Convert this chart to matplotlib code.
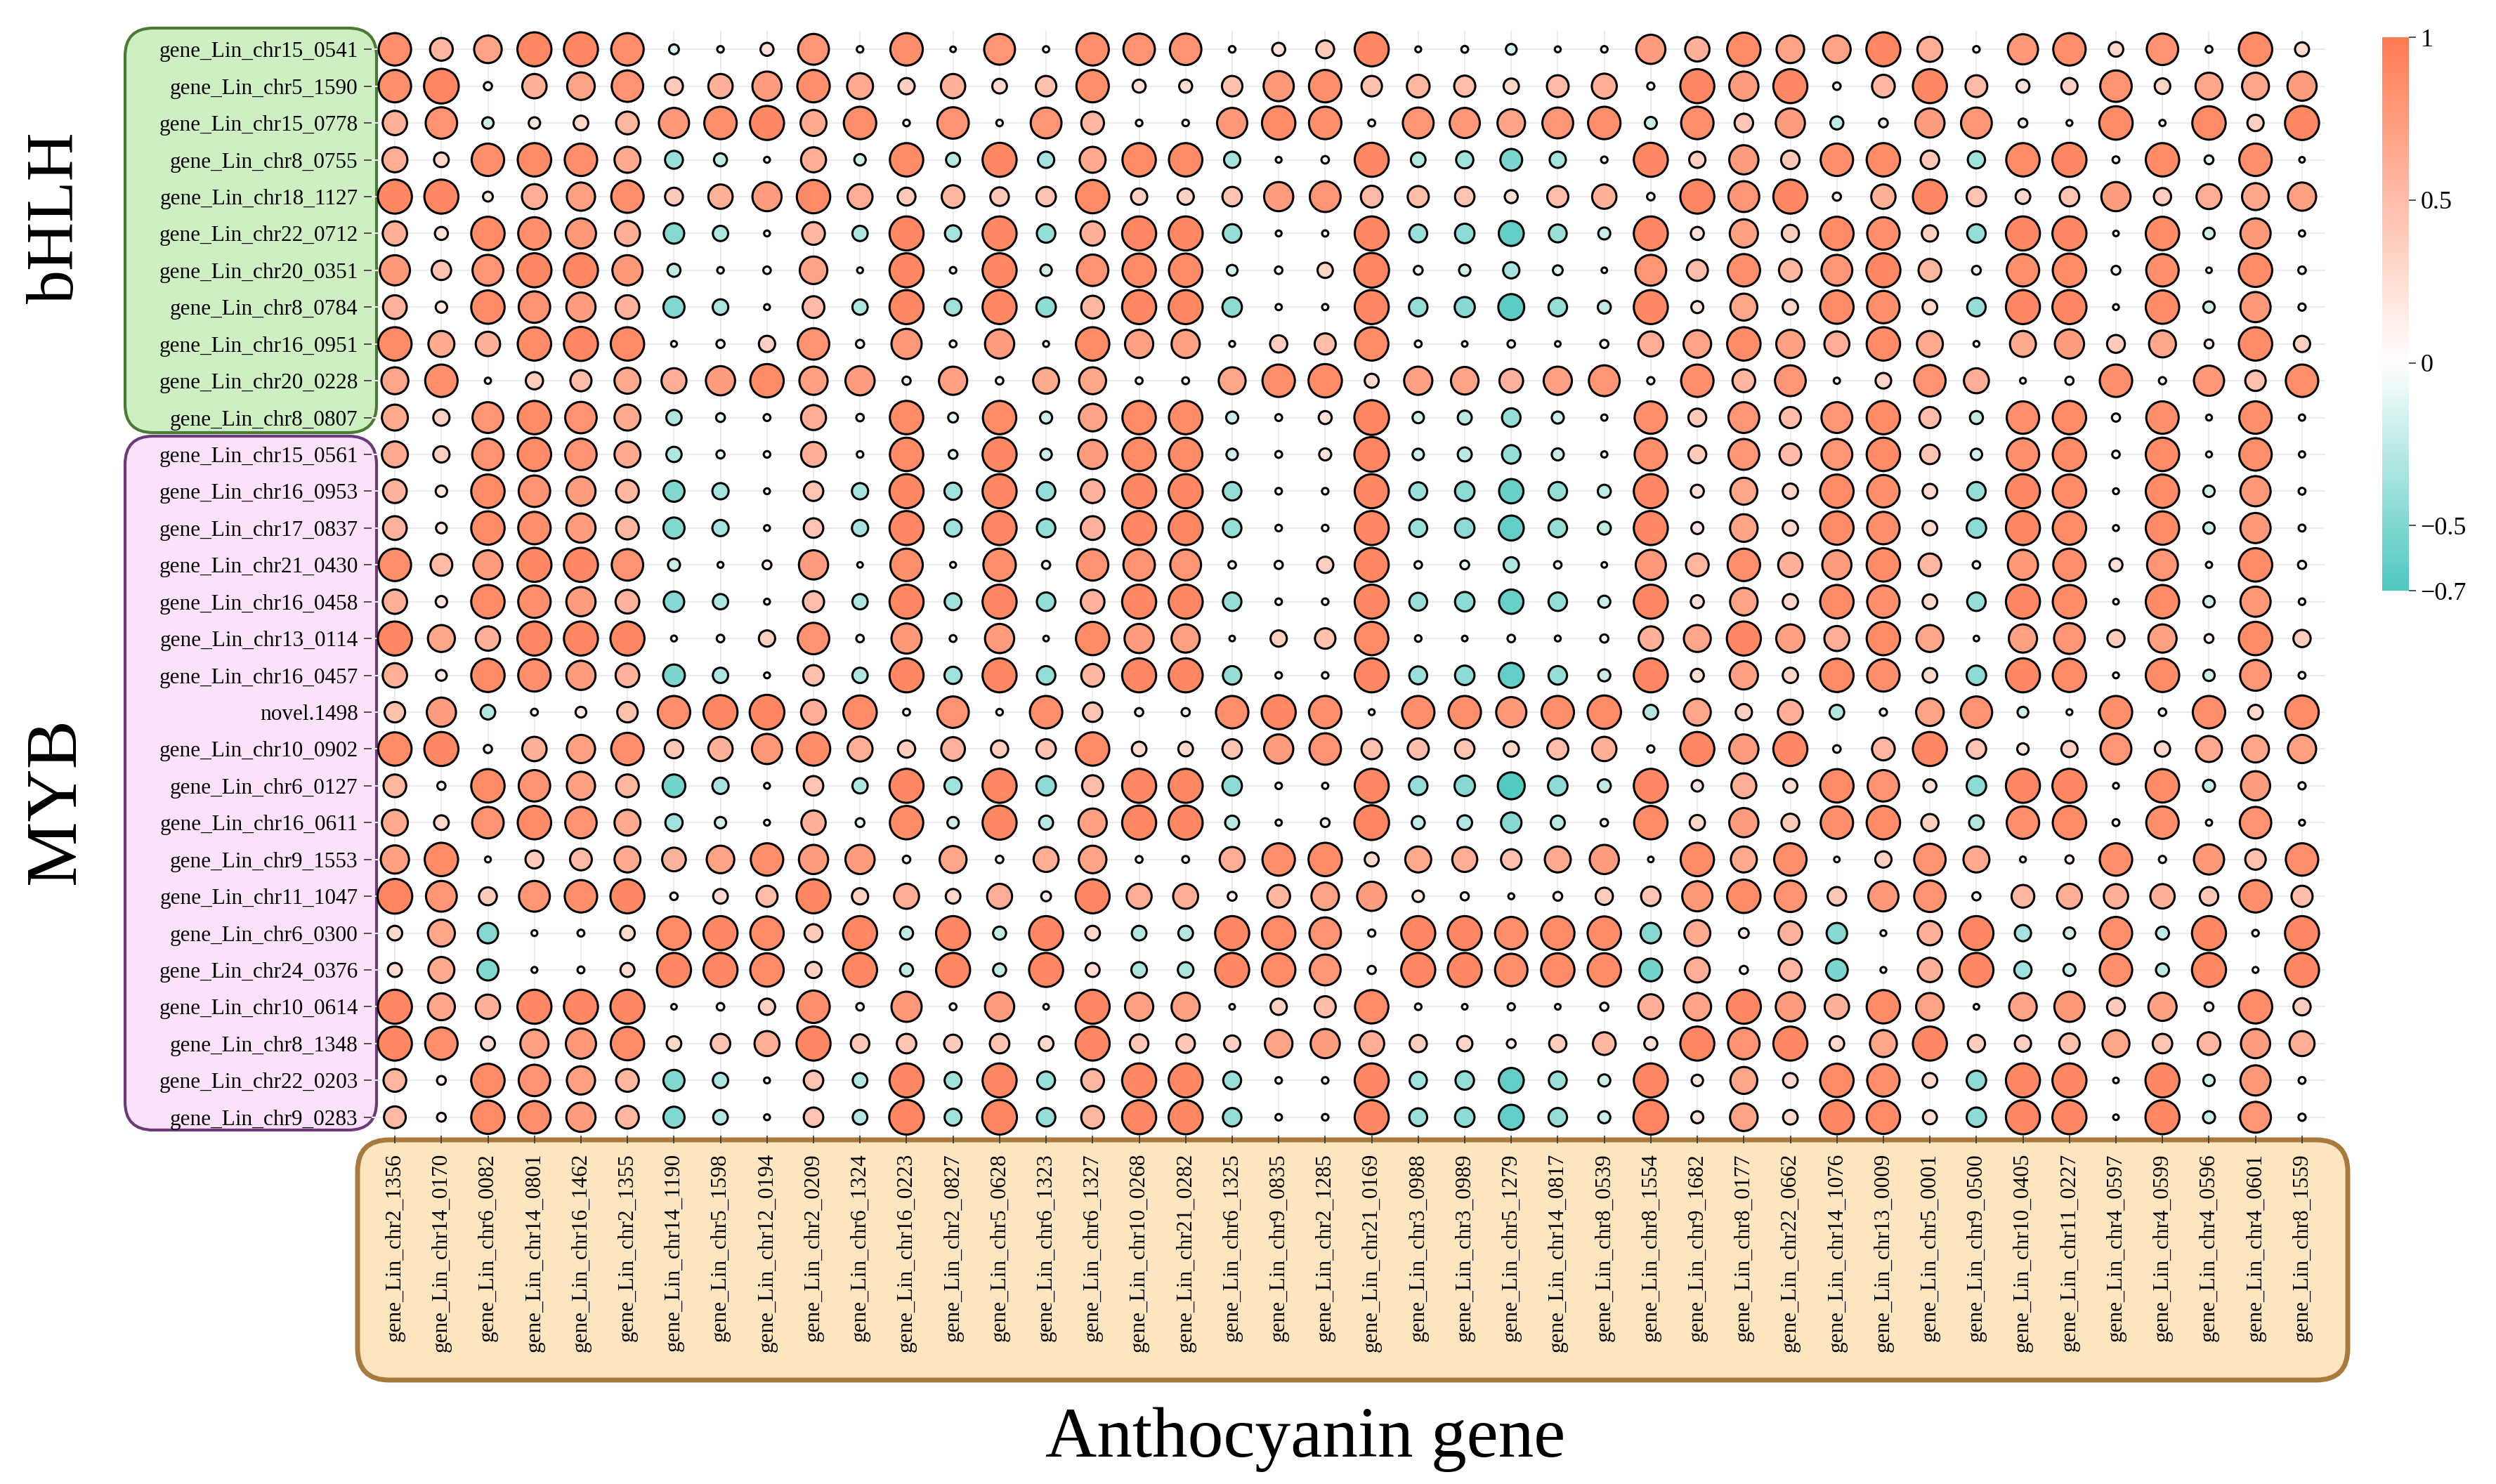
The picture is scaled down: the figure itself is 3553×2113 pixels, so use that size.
import numpy as np
import matplotlib
matplotlib.use('Agg')
import matplotlib.pyplot as plt
from matplotlib.colors import LinearSegmentedColormap, Normalize
from matplotlib.cm import ScalarMappable
from matplotlib.patches import FancyBboxPatch

plt.rcParams['font.family'] = ['Liberation Serif', 'DejaVu Serif']

# anthocyanin genes (x axis)
col_genes = ['gene_Lin_chr2_1356', 'gene_Lin_chr14_0170', 'gene_Lin_chr6_0082', 'gene_Lin_chr14_0801',
             'gene_Lin_chr16_1462', 'gene_Lin_chr2_1355', 'gene_Lin_chr14_1190', 'gene_Lin_chr5_1598',
             'gene_Lin_chr12_0194', 'gene_Lin_chr2_0209', 'gene_Lin_chr6_1324', 'gene_Lin_chr16_0223',
             'gene_Lin_chr2_0827', 'gene_Lin_chr5_0628', 'gene_Lin_chr6_1323', 'gene_Lin_chr6_1327',
             'gene_Lin_chr10_0268', 'gene_Lin_chr21_0282', 'gene_Lin_chr6_1325', 'gene_Lin_chr9_0835',
             'gene_Lin_chr2_1285', 'gene_Lin_chr21_0169', 'gene_Lin_chr3_0988', 'gene_Lin_chr3_0989',
             'gene_Lin_chr5_1279', 'gene_Lin_chr14_0817', 'gene_Lin_chr8_0539', 'gene_Lin_chr8_1554',
             'gene_Lin_chr9_1682', 'gene_Lin_chr8_0177', 'gene_Lin_chr22_0662', 'gene_Lin_chr14_1076',
             'gene_Lin_chr13_0009', 'gene_Lin_chr5_0001', 'gene_Lin_chr9_0500', 'gene_Lin_chr10_0405',
             'gene_Lin_chr11_0227', 'gene_Lin_chr4_0597', 'gene_Lin_chr4_0599', 'gene_Lin_chr4_0596',
             'gene_Lin_chr4_0601', 'gene_Lin_chr8_1559']

bhlh_genes = ['gene_Lin_chr15_0541', 'gene_Lin_chr5_1590', 'gene_Lin_chr15_0778', 'gene_Lin_chr8_0755',
              'gene_Lin_chr18_1127', 'gene_Lin_chr22_0712', 'gene_Lin_chr20_0351', 'gene_Lin_chr8_0784',
              'gene_Lin_chr16_0951', 'gene_Lin_chr20_0228', 'gene_Lin_chr8_0807']

myb_genes = ['gene_Lin_chr15_0561', 'gene_Lin_chr16_0953', 'gene_Lin_chr17_0837', 'gene_Lin_chr21_0430',
             'gene_Lin_chr16_0458', 'gene_Lin_chr13_0114', 'gene_Lin_chr16_0457', 'novel.1498',
             'gene_Lin_chr10_0902', 'gene_Lin_chr6_0127', 'gene_Lin_chr16_0611', 'gene_Lin_chr9_1553',
             'gene_Lin_chr11_1047', 'gene_Lin_chr6_0300', 'gene_Lin_chr24_0376', 'gene_Lin_chr10_0614',
             'gene_Lin_chr8_1348', 'gene_Lin_chr22_0203', 'gene_Lin_chr9_0283']

# correlation values, one list per TF row, 42 anthocyanin genes each
bhlh_r = [
    [0.85, 0.55, 0.7, 0.9, 0.9, 0.85, -0.15, -0.05, 0.25, 0.8, 0.05, 0.85, 0.02, 0.8,
     0.04, 0.85, 0.82, 0.82, 0.05, 0.25, 0.4, 0.9, 0.03, 0.06, -0.18, 0.03, 0.05, 0.75,
     0.6, 0.88, 0.7, 0.7, 0.9, 0.62, -0.05, 0.78, 0.85, 0.3, 0.82, 0.06, 0.88, 0.28],
    [0.85, 0.92, 0.1, 0.6, 0.7, 0.82, 0.4, 0.6, 0.75, 0.85, 0.65, 0.35, 0.6, 0.3,
     0.48, 0.85, 0.25, 0.25, 0.48, 0.78, 0.85, 0.48, 0.55, 0.5, 0.32, 0.52, 0.62, 0.07,
     0.9, 0.75, 0.9, 0.08, 0.55, 0.9, 0.52, 0.25, 0.35, 0.82, 0.33, 0.68, 0.68, 0.75],
    [0.6, 0.82, -0.2, 0.2, 0.3, 0.55, 0.78, 0.85, 0.9, 0.65, 0.85, 0.05, 0.82, 0.05,
     0.8, 0.55, 0.05, 0.05, 0.78, 0.88, 0.85, 0.06, 0.8, 0.78, 0.7, 0.8, 0.85, -0.22,
     0.85, 0.42, 0.75, -0.25, 0.12, 0.75, 0.8, -0.12, 0.03, 0.88, 0.04, 0.88, 0.35, 0.9],
    [0.62, 0.3, 0.85, 0.88, 0.85, 0.65, -0.4, -0.25, 0.03, 0.62, -0.2, 0.88, -0.28, 0.9,
     -0.35, 0.65, 0.88, 0.88, -0.35, 0.03, 0.08, 0.9, -0.3, -0.38, -0.52, -0.35, -0.05, 0.9,
     0.35, 0.75, 0.42, 0.85, 0.88, 0.42, -0.38, 0.88, 0.9, 0.06, 0.88, -0.12, 0.85, 0.02],
    [0.9, 0.9, 0.15, 0.62, 0.72, 0.85, 0.4, 0.6, 0.75, 0.88, 0.62, 0.4, 0.55, 0.42,
     0.45, 0.88, 0.35, 0.35, 0.45, 0.75, 0.8, 0.52, 0.5, 0.45, 0.25, 0.5, 0.6, 0.08,
     0.9, 0.8, 0.9, 0.1, 0.6, 0.9, 0.45, 0.3, 0.45, 0.75, 0.38, 0.62, 0.68, 0.72],
    [0.6, 0.25, 0.88, 0.85, 0.78, 0.62, -0.48, -0.32, 0.03, 0.55, -0.32, 0.9, -0.35, 0.9,
     -0.42, 0.6, 0.9, 0.9, -0.42, 0.03, 0.04, 0.9, -0.4, -0.45, -0.62, -0.4, -0.22, 0.9,
     0.25, 0.72, 0.38, 0.88, 0.85, 0.35, -0.42, 0.9, 0.9, 0.02, 0.88, -0.2, 0.78, 0.04],
    [0.78, 0.45, 0.8, 0.9, 0.9, 0.78, -0.25, -0.05, 0.08, 0.7, 0.03, 0.9, -0.05, 0.9,
     -0.2, 0.82, 0.88, 0.88, -0.18, 0.08, 0.32, 0.92, -0.12, -0.2, -0.35, -0.15, 0.02, 0.8,
     0.5, 0.85, 0.55, 0.8, 0.9, 0.55, -0.12, 0.85, 0.88, 0.12, 0.85, 0.02, 0.88, 0.08],
    [0.58, 0.2, 0.88, 0.82, 0.75, 0.58, -0.5, -0.33, 0.03, 0.52, -0.32, 0.9, -0.37, 0.9,
     -0.45, 0.55, 0.9, 0.9, -0.45, 0.04, 0.04, 0.9, -0.42, -0.47, -0.65, -0.42, -0.25, 0.9,
     0.22, 0.68, 0.32, 0.88, 0.85, 0.3, -0.42, 0.9, 0.9, 0.03, 0.88, -0.2, 0.78, -0.07],
    [0.88, 0.65, 0.6, 0.88, 0.9, 0.88, 0.03, 0.1, 0.35, 0.82, 0.1, 0.78, 0.06, 0.75,
     0.03, 0.88, 0.72, 0.72, 0.03, 0.38, 0.5, 0.88, 0.06, 0.02, -0.08, 0.02, 0.1, 0.62,
     0.7, 0.88, 0.72, 0.62, 0.88, 0.65, 0.03, 0.65, 0.75, 0.4, 0.68, 0.12, 0.88, 0.35],
    [0.68, 0.85, 0.04, 0.38, 0.5, 0.65, 0.62, 0.75, 0.88, 0.72, 0.75, 0.1, 0.72, 0.08,
     0.65, 0.68, 0.06, 0.06, 0.68, 0.85, 0.88, 0.28, 0.72, 0.7, 0.58, 0.72, 0.8, 0.07,
     0.85, 0.55, 0.8, 0.04, 0.33, 0.82, 0.62, 0.03, 0.1, 0.85, 0.07, 0.78, 0.48, 0.85],
    [0.65, 0.35, 0.8, 0.88, 0.82, 0.65, -0.32, -0.12, 0.06, 0.62, -0.08, 0.88, -0.15, 0.88,
     -0.22, 0.7, 0.88, 0.88, -0.22, 0.06, 0.25, 0.92, -0.2, -0.28, -0.42, -0.22, -0.04, 0.85,
     0.4, 0.8, 0.5, 0.8, 0.88, 0.5, -0.25, 0.85, 0.88, 0.1, 0.85, 0.03, 0.85, 0.04],
]

myb_r = [
    [0.65, 0.35, 0.82, 0.88, 0.82, 0.65, -0.32, -0.1, 0.05, 0.62, 0.05, 0.88, -0.12, 0.9,
     -0.2, 0.75, 0.88, 0.88, -0.2, 0.06, 0.22, 0.92, -0.2, -0.28, -0.42, -0.22, -0.04, 0.85,
     0.4, 0.8, 0.52, 0.8, 0.88, 0.45, -0.2, 0.85, 0.88, 0.08, 0.88, 0.03, 0.85, 0.04],
    [0.58, 0.2, 0.88, 0.82, 0.75, 0.55, -0.5, -0.35, 0.03, 0.45, -0.35, 0.9, -0.38, 0.9,
     -0.42, 0.58, 0.9, 0.9, -0.42, 0.05, 0.05, 0.9, -0.4, -0.45, -0.6, -0.42, -0.25, 0.9,
     0.25, 0.68, 0.32, 0.88, 0.85, 0.3, -0.42, 0.9, 0.88, 0.03, 0.88, -0.2, 0.78, -0.06],
    [0.58, 0.18, 0.88, 0.85, 0.75, 0.55, -0.5, -0.35, 0.03, 0.45, -0.35, 0.9, -0.38, 0.9,
     -0.42, 0.58, 0.9, 0.9, -0.42, 0.05, 0.05, 0.9, -0.4, -0.45, -0.62, -0.42, -0.25, 0.9,
     0.22, 0.7, 0.32, 0.88, 0.85, 0.3, -0.45, 0.9, 0.88, 0.03, 0.88, -0.2, 0.78, -0.06],
    [0.85, 0.52, 0.75, 0.9, 0.9, 0.82, -0.22, 0.03, 0.12, 0.75, 0.02, 0.85, 0.03, 0.85,
     -0.1, 0.82, 0.82, 0.8, -0.08, 0.1, 0.35, 0.9, -0.08, -0.12, -0.32, -0.08, -0.02, 0.78,
     0.55, 0.85, 0.6, 0.75, 0.88, 0.55, -0.08, 0.78, 0.85, 0.25, 0.8, 0.04, 0.88, 0.1],
    [0.6, 0.2, 0.88, 0.85, 0.75, 0.58, -0.48, -0.32, 0.03, 0.5, -0.32, 0.9, -0.37, 0.9,
     -0.42, 0.58, 0.9, 0.9, -0.42, 0.05, 0.05, 0.9, -0.4, -0.45, -0.6, -0.42, -0.22, 0.9,
     0.25, 0.7, 0.32, 0.88, 0.85, 0.3, -0.42, 0.9, 0.88, 0.02, 0.88, -0.2, 0.78, -0.05],
    [0.9, 0.68, 0.6, 0.9, 0.9, 0.9, 0.03, 0.08, 0.35, 0.82, 0.08, 0.78, 0.06, 0.75,
     0.02, 0.88, 0.75, 0.72, 0.02, 0.35, 0.48, 0.88, 0.05, 0.02, -0.08, 0.03, 0.1, 0.6,
     0.68, 0.9, 0.72, 0.62, 0.88, 0.68, 0.02, 0.72, 0.8, 0.38, 0.72, 0.12, 0.88, 0.38],
    [0.6, 0.18, 0.88, 0.85, 0.75, 0.58, -0.52, -0.32, 0.03, 0.48, -0.32, 0.9, -0.38, 0.9,
     -0.42, 0.55, 0.9, 0.9, -0.42, 0.05, 0.05, 0.9, -0.4, -0.45, -0.62, -0.42, -0.22, 0.9,
     0.25, 0.72, 0.32, 0.88, 0.85, 0.3, -0.45, 0.9, 0.88, 0.03, 0.88, -0.2, 0.8, -0.06],
    [0.48, 0.75, -0.3, 0.06, 0.18, 0.48, 0.85, 0.9, 0.92, 0.62, 0.88, -0.06, 0.82, -0.05,
     0.85, 0.45, -0.1, -0.1, 0.85, 0.9, 0.85, 0.03, 0.85, 0.85, 0.78, 0.85, 0.88, -0.3,
     0.68, 0.35, 0.62, -0.3, 0.07, 0.7, 0.82, -0.18, 0.03, 0.85, -0.08, 0.85, 0.3, 0.88],
    [0.88, 0.9, 0.1, 0.6, 0.72, 0.85, 0.42, 0.6, 0.78, 0.88, 0.62, 0.38, 0.58, 0.38,
     0.45, 0.88, 0.3, 0.3, 0.45, 0.75, 0.82, 0.48, 0.5, 0.45, 0.32, 0.5, 0.6, 0.07,
     0.9, 0.75, 0.9, 0.08, 0.55, 0.9, 0.45, 0.2, 0.35, 0.8, 0.32, 0.65, 0.68, 0.72],
    [0.55, 0.1, 0.88, 0.82, 0.72, 0.55, -0.55, -0.35, 0.03, 0.45, -0.32, 0.9, -0.38, 0.9,
     -0.45, 0.5, 0.9, 0.9, -0.45, 0.05, 0.04, 0.9, -0.42, -0.48, -0.68, -0.45, -0.25, 0.9,
     0.2, 0.62, 0.28, 0.88, 0.82, 0.25, -0.45, 0.9, 0.9, 0.03, 0.88, -0.22, 0.75, -0.07],
    [0.65, 0.3, 0.82, 0.88, 0.82, 0.65, -0.38, -0.2, 0.03, 0.6, -0.12, 0.88, -0.2, 0.9,
     -0.28, 0.72, 0.9, 0.9, -0.28, 0.04, 0.12, 0.92, -0.25, -0.3, -0.48, -0.28, -0.08, 0.88,
     0.32, 0.75, 0.4, 0.85, 0.88, 0.38, -0.3, 0.85, 0.88, 0.06, 0.85, 0.04, 0.82, 0.03],
    [0.72, 0.88, 0.03, 0.4, 0.52, 0.65, 0.58, 0.7, 0.85, 0.75, 0.75, 0.08, 0.68, 0.08,
     0.62, 0.7, 0.06, 0.06, 0.62, 0.85, 0.88, 0.28, 0.65, 0.62, 0.48, 0.65, 0.75, 0.02,
     0.88, 0.65, 0.85, 0.02, 0.35, 0.82, 0.65, 0.03, 0.1, 0.85, 0.07, 0.78, 0.48, 0.85],
    [0.92, 0.8, 0.4, 0.8, 0.85, 0.9, 0.08, 0.3, 0.5, 0.9, 0.35, 0.62, 0.3, 0.62,
     0.15, 0.9, 0.62, 0.62, 0.12, 0.55, 0.7, 0.75, 0.2, 0.1, 0.03, 0.12, 0.38, 0.45,
     0.78, 0.88, 0.82, 0.42, 0.78, 0.82, 0.1, 0.55, 0.62, 0.6, 0.6, 0.42, 0.85, 0.5],
    [0.3, 0.68, -0.48, 0.03, 0.06, 0.3, 0.88, 0.9, 0.88, 0.4, 0.9, -0.25, 0.9, -0.25,
     0.9, 0.3, -0.3, -0.3, 0.9, 0.88, 0.82, -0.07, 0.9, 0.9, 0.85, 0.88, 0.88, -0.48,
     0.65, 0.15, 0.58, -0.48, 0.03, 0.6, 0.9, -0.35, -0.2, 0.85, -0.25, 0.9, 0.05, 0.9],
    [0.28, 0.65, -0.5, 0.03, 0.06, 0.28, 0.9, 0.9, 0.88, 0.35, 0.9, -0.25, 0.9, -0.25,
     0.9, 0.28, -0.33, -0.33, 0.9, 0.88, 0.8, -0.1, 0.9, 0.9, 0.85, 0.88, 0.88, -0.55,
     0.62, 0.1, 0.55, -0.52, 0.03, 0.6, 0.9, -0.38, -0.22, 0.85, -0.25, 0.9, 0.03, 0.9],
    [0.9, 0.68, 0.6, 0.9, 0.9, 0.9, 0.02, 0.08, 0.35, 0.85, 0.08, 0.78, 0.06, 0.75,
     0.02, 0.9, 0.72, 0.72, 0.02, 0.35, 0.5, 0.88, 0.05, 0.02, -0.07, 0.02, 0.1, 0.62,
     0.7, 0.9, 0.75, 0.6, 0.88, 0.7, 0.02, 0.7, 0.78, 0.4, 0.72, 0.12, 0.88, 0.38],
    [0.9, 0.85, 0.28, 0.72, 0.78, 0.88, 0.3, 0.45, 0.62, 0.9, 0.42, 0.45, 0.4, 0.45,
     0.3, 0.9, 0.42, 0.42, 0.35, 0.7, 0.75, 0.62, 0.38, 0.32, 0.12, 0.38, 0.55, 0.25,
     0.9, 0.82, 0.9, 0.3, 0.68, 0.9, 0.38, 0.35, 0.48, 0.68, 0.45, 0.55, 0.75, 0.62],
    [0.55, 0.12, 0.88, 0.82, 0.72, 0.55, -0.5, -0.32, 0.03, 0.45, -0.3, 0.9, -0.37, 0.9,
     -0.4, 0.55, 0.9, 0.9, -0.4, 0.05, 0.05, 0.9, -0.38, -0.42, -0.62, -0.4, -0.22, 0.9,
     0.2, 0.68, 0.3, 0.88, 0.85, 0.3, -0.45, 0.9, 0.9, 0.02, 0.9, -0.2, 0.78, -0.06],
    [0.52, 0.12, 0.88, 0.85, 0.75, 0.55, -0.5, -0.3, 0.03, 0.45, -0.3, 0.92, -0.37, 0.92,
     -0.42, 0.55, 0.9, 0.9, -0.42, 0.05, 0.05, 0.9, -0.4, -0.45, -0.62, -0.42, -0.22, 0.92,
     0.22, 0.7, 0.3, 0.9, 0.88, 0.28, -0.45, 0.9, 0.9, 0.02, 0.9, -0.22, 0.8, -0.07],
]

cbar_ticks = [-0.7, -0.5, 0, 0.5, 1]
cbar_labels = ['\u22120.7', '\u22120.5', '0', '0.5', '1']

W, H = 3553, 2113
fig = plt.figure(figsize=(W / 100, H / 100), dpi=100)

# pixel-space layer for the coloured label boxes and the big titles
bg = fig.add_axes([0, 0, 1, 1], zorder=-1)
bg.set_xlim(0, W)
bg.set_ylim(H, 0)
bg.axis('off')


def rbox(x0, y0, x1, y1, fc, ec, lw, r):
    bg.add_patch(FancyBboxPatch((x0, y0), x1 - x0, y1 - y0,
                                boxstyle=f'round,pad=0,rounding_size={r}',
                                fc=fc, ec=ec, lw=lw))


rbox(178, 40, 536, 616, '#CDEFC1', '#4B7A35', 3, 40)
rbox(178, 621, 536, 1609, '#FBE1FA', '#6C3A7A', 3, 40)
rbox(509, 1623, 3342, 1965, '#FDE5C0', '#A97A3E', 5, 45)

bg.text(81, 310, 'bHLH', rotation=90, fontsize=69, ha='center', va='center')
bg.text(81, 1140, 'MYB', rotation=90, fontsize=75, ha='center', va='center')
bg.text(1858, 2050, 'Anthocyanin gene', fontsize=73, ha='center', va='center')

# bubble matrix
rows = bhlh_genes + myb_genes
vals = np.array(bhlh_r + myb_r)
yy, xx = np.meshgrid(np.arange(len(rows)), np.arange(len(col_genes)), indexing='ij')

cmap = LinearSegmentedColormap.from_list(
    'cor', [(0, '#4EC8BE'), (0.7 / 1.7, '#FFFFFF'), (1, '#FF7B52')])
norm = Normalize(-0.7, 1)

ax = fig.add_axes([529 / W, 1 - 1617 / H, (3310 - 529) / W, (1617 - 44) / H])
ax.set_facecolor('none')
d_px = 7 + 46 * np.abs(vals)
ax.scatter(xx.ravel(), yy.ravel(), s=(d_px.ravel() * 0.72) ** 2, c=vals.ravel(),
           cmap=cmap, norm=norm, edgecolors='black', linewidths=2.2, zorder=3)
ax.set_xlim(-0.5, len(col_genes) - 0.5)
ax.set_ylim(len(rows) - 0.5, -0.5)
ax.set_xticks(range(len(col_genes)))
ax.set_xticklabels(col_genes, rotation=90, fontsize=22.5)
ax.set_yticks(range(len(rows)))
ax.set_yticklabels(rows, fontsize=22.5)
ax.grid(color='#EBEBEB', lw=1.5)
ax.set_axisbelow(True)
for sp in ax.spines.values():
    sp.set_visible(False)
ax.tick_params(axis='x', length=8, width=1.2, pad=10, color='#333333')
ax.tick_params(axis='y', length=8, width=1.2, pad=6, color='#333333')

cax = fig.add_axes([3391 / W, 1 - 841 / H, 38 / W, 788 / H])
cb = fig.colorbar(ScalarMappable(norm=norm, cmap=cmap), cax=cax, ticks=cbar_ticks)
cb.ax.set_yticklabels(cbar_labels)
cb.outline.set_visible(False)
cb.ax.tick_params(length=7, width=1.2, labelsize=26, pad=5, color='#333333')

fig.savefig('out.png', dpi=100)
